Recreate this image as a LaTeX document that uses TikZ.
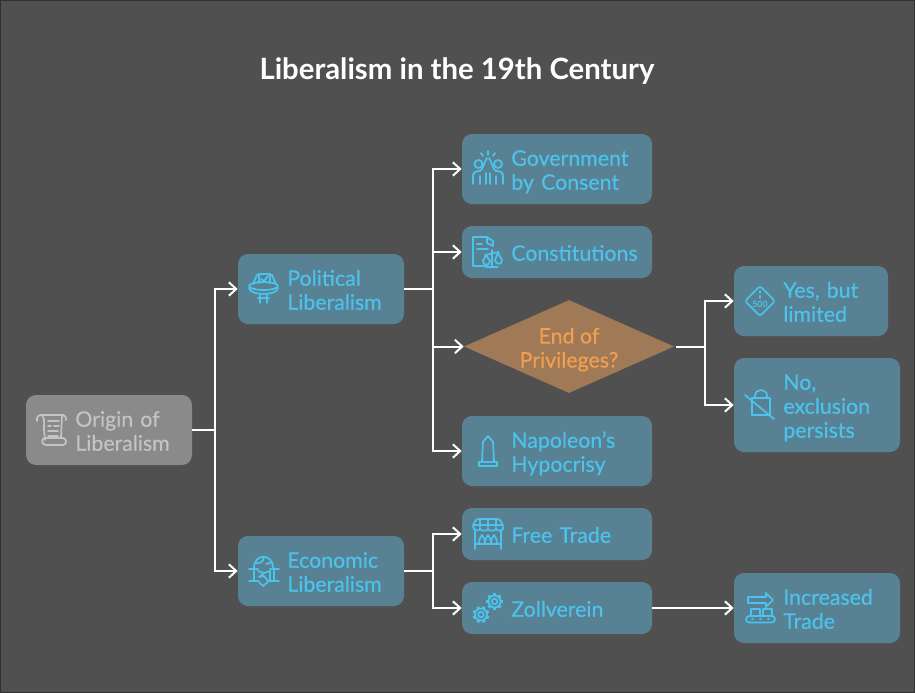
\documentclass[tikz,border=0pt]{standalone}
\usepackage{fontspec}
\setmainfont{Lato}
\usetikzlibrary{arrows.meta,shapes.geometric}
\definecolor{bgc}{RGB}{80,80,80}
\definecolor{edgec}{RGB}{48,48,48}
\definecolor{boxc}{RGB}{88,130,148}
\definecolor{txtc}{RGB}{76,195,236}
\definecolor{grayc}{RGB}{138,138,138}
\definecolor{graytxt}{RGB}{196,196,196}
\definecolor{dmdc}{RGB}{160,122,86}
\definecolor{dmdtxt}{RGB}{242,160,80}
\tikzset{
  x=0.75pt,y=-0.75pt,
  lblfont/.style={font=\fontsize{16}{18}\selectfont\addfontfeature{FakeBold=0.25}},
  bx/.style={rectangle,rounded corners=7.5pt,fill=boxc,text=txtc,inner sep=0pt,align=left,lblfont,
    execute at begin node={\leftskip=37pt\relax\rule{0pt}{17.8pt}},
    execute at end node={\rule[-4.7pt]{0pt}{4.7pt}}},
  hb/.style={bx,text width=142.5pt,minimum width=142.5pt},
  sb/.style={bx,text width=124.5pt,minimum width=124.5pt},
  h2/.style={minimum height=52.5pt},
  h1/.style={minimum height=39pt},
  conn/.style={draw=white,line width=1.5pt,-{Straight Barb[length=5.5pt,width=10pt,line width=1.5pt]}},
  trunk/.style={draw=white,line width=1.5pt},
  ic/.style={draw=txtc,line width=1.3pt,line join=round,line cap=round},
  icg/.style={draw=graytxt,line width=1.3pt,line join=round,line cap=round},
}
\begin{document}
\begin{tikzpicture}
\useasboundingbox (0,0) rectangle (915,693);
\fill[edgec] (0,0) rectangle (915,693);
\fill[bgc] (1,1) rectangle (914,692);
\node[font=\fontsize{22}{24}\selectfont\bfseries,text=white,inner sep=0pt] (title) at (457,71.5) {Liberalism in the 19th Century};

% boxes
\node[sb,h2,fill=grayc,text=graytxt] (origin) at (109,430) {Origin of\\Liberalism};
\node[sb,h2] (pol) at (321,289) {Political\\Liberalism};
\node[sb,h2] (eco) at (321,571) {Economic\\Liberalism};
\node[hb,h2] (gov) at (557,169) {Government\\by Consent};
\node[hb,h1] (con) at (557,252) {Constitutions};
\node[diamond,fill=dmdc,text=dmdtxt,inner sep=0pt,minimum width=157.5pt,minimum height=69.75pt,shape aspect=2.26,align=center,lblfont] (dmd) at (569,346.5) {\raisebox{-2.25pt}[11pt][4pt]{End of}\\\raisebox{-2.25pt}[11pt][2pt]{Privileges?}};
\node[hb,h2] (nap) at (557,451) {Napoleon's\\Hypocrisy};
\node[hb,h1] (fre) at (557,534) {Free Trade};
\node[hb,h1] (zol) at (557,608) {Zollverein};
\node[bx,text width=115.5pt,minimum width=115.5pt,h2] (yes) at (811,301) {Yes, but\\limited};
\node[sb,minimum height=70.5pt] (no) at (817,405) {No,\\exclusion\\persists};
\node[sb,h2] (inc) at (817,608) {Increased\\Trade};

% connectors
\coordinate (j1) at (215,430);
\coordinate (j2) at (433,289);
\coordinate (j3) at (433,571);
\coordinate (j4) at (705,346.5);
\coordinate (d1) at (676,346.5);
\draw[trunk] (origin.east) -- (j1);
\draw[conn] (j1) |- (pol.west);
\draw[conn] (j1) |- (eco.west);
\draw[trunk] (pol.east) -- (j2);
\draw[conn] (j2) |- (gov.west);
\draw[conn] (j2) |- (con.west);
\draw[conn] (j2) |- (dmd.west);
\draw[conn] (j2) |- (nap.west);
\draw[trunk] (eco.east) -- (j3);
\draw[conn] (j3) |- (fre.west);
\draw[conn] (j3) |- (zol.west);
\draw[trunk] (d1) -- (j4);
\draw[conn] (j4) |- (yes.west);
\draw[conn] (j4) |- (no.west);
\draw[conn] (zol.east) -- (inc.west);

% icon: scroll
\begin{scope}[icg]
\draw (37,418) .. controls (37,415) and (40,415) .. (42,415) -- (63,415) .. controls (66,415) and (66,418) .. (66,420);
\draw (37,418) -- (37,421);
\draw (42,415) .. controls (45,418) and (44,425) .. (44,430) -- (45,440) ;
\draw (62,416) -- (61,437);
\draw (45,438) .. controls (41,438) and (41,445) .. (46,445) -- (63,445) .. controls (67,445) and (67,438) .. (63,438) -- (45,438);
\draw (48,421) -- (59,421) (48,426) -- (51,426) (54,426) -- (59,426) (48,431) -- (58,431) (48,436) -- (58,436);
\end{scope}
% icon: ballot
\begin{scope}[ic]
\draw (253,284) -- (257,275) -- (259,275) (270,275) -- (272,275) -- (276,284);
\draw (259,283) -- (259,274) -- (270,274) -- (270,283);
\draw (261,279) -- (264,281) -- (268,276);
\draw (263.5,286) ellipse (14.5 and 4);
\draw (249,288) .. controls (250,296) and (277,296) .. (278,288);
\draw (260,295) -- (260,303) (267,295) -- (267,303) (258,298) -- (269,298);
\end{scope}
% icon: high five
\begin{scope}[ic]
\draw (478.5,164) circle (4) (498,164) circle (4);
\draw (473,184) -- (473,176) .. controls (473,172) and (476,171) .. (480,171) .. controls (483,170) and (484,162) .. (487,158);
\draw (503,184) -- (503,176) .. controls (503,172) and (500,171) .. (496,171) .. controls (493,170) and (492,162) .. (489,158);
\draw (480,184) -- (480,176) (496,184) -- (496,176);
\draw (486,173) -- (486,184) (490,173) -- (490,184);
\draw (488,151) -- (488,155) (481,153) -- (483,156) (495,153) -- (493,156);
\end{scope}
% icon: constitutions
\begin{scope}[ic]
\draw (493,246) -- (493,241) -- (487,237) -- (473,237) -- (473,266) -- (487,266);
\draw (487,237) -- (487,243) -- (493,246);
\draw (477,244) -- (482,244) (477,249) -- (488,249);
\draw (492,250) -- (492,267) (486,267) -- (498,267) (485,255) -- (499,252);
\draw (486,255) -- (483,261) .. controls (483,266) and (490,266) .. (490,261) -- (486,255);
\draw (498,253) -- (495,260) .. controls (495,265) and (503,265) .. (502,260) -- (498,253);
\end{scope}
% icon: limit sign
\begin{scope}[ic]
\draw[rounded corners=2pt] (760,286) -- (775,301) -- (760,316) -- (745,301) -- cycle;
\draw (760,291) -- (760,293) (760,296) -- (760,298);
\end{scope}
\node[text=txtc,inner sep=0pt,font=\fontsize{6.5}{6.5}\selectfont\bfseries] (lim) at (760,304) {500};
% icon: lock
\begin{scope}[ic]
\draw (752,398) -- (770,398) -- (770,415) -- (752,415) -- cycle;
\draw (755,398) -- (755,396) .. controls (755,388) and (767,388) .. (767,396) -- (767,398);
\draw (745,395) -- (774,419);
\end{scope}
% icon: obelisk
\begin{scope}[ic]
\draw (482,461) -- (483,442) -- (488,436) -- (493,442) -- (494,461);
\draw (479,462) rectangle (497,466);
\end{scope}
% icon: stall
\begin{scope}[ic]
\draw[rounded corners=2pt] (473,526) -- (476,519) -- (500,519) -- (503,526) .. controls (503,531) and (497,531) .. (496,527) .. controls (495,531) and (489,531) .. (488,527) .. controls (487,531) and (481,531) .. (480,527) .. controls (479,531) and (473,531) .. (473,526);
\draw (473,525) -- (503,525) (480,519) -- (480,527) (488,519) -- (488,527) (496,519) -- (496,527);
\draw (475,530) -- (475,549) (501,530) -- (501,549) (475,544) -- (501,544);
\draw (479,543) .. controls (479,539) and (481,537) .. (482,535) .. controls (483,537) and (485,539) .. (485,543);
\draw (485,543) .. controls (485,539) and (487,537) .. (488,535) .. controls (489,537) and (491,539) .. (491,543);
\draw (491,543) .. controls (491,539) and (493,537) .. (494,535) .. controls (495,537) and (497,539) .. (497,543);
\end{scope}
% icon: gears
\begin{scope}[ic]
\draw (494.5,601.5) circle (2.8) (494.5,601.5) circle (6);
\foreach \a in {0,45,...,315} \draw[line width=2.2pt,line cap=butt] (494.5,601.5) ++(\a:6) -- ++(\a:2.4);
\draw (481,614.5) circle (2.8) (481,614.5) circle (6);
\foreach \a in {22,67,...,337} \draw[line width=2.2pt,line cap=butt] (481,614.5) ++(\a:6) -- ++(\a:2.4);
\end{scope}
% icon: conveyor
\begin{scope}[ic]
\draw (748,597) -- (766,597) -- (766,593) -- (773,600) -- (766,607) -- (766,603) -- (748,603) -- cycle;
\draw (751,616) -- (751,609) -- (760,609) -- (760,616) (763,616) -- (763,609) -- (772,609) -- (772,616);
\draw[rounded corners=2.5pt] (746,616) rectangle (775,622.5);
\draw (752,619.2) -- (753,619.2) (760,619.2) -- (761,619.2) (768,619.2) -- (769,619.2);
\end{scope}
% icon: globe handshake
\begin{scope}[ic]
\draw (254,568) .. controls (254,553) and (273,553) .. (273,568);
\draw (256,563) .. controls (260,564) and (263,562) .. (264,557);
\draw (266,564) -- (272,562);
\draw (249,569) -- (258,569) (270,569) -- (279,569) (249,581) -- (258,581) (270,581) -- (279,581);
\draw (254,569) -- (254,581) (274,569) -- (274,581);
\draw (258,571) -- (264,573) -- (270,571) -- (270,580) -- (263,586) -- (258,581) (264,573) -- (259,577) -- (264,576) -- (268,581);
\end{scope}
\end{tikzpicture}
\end{document}
